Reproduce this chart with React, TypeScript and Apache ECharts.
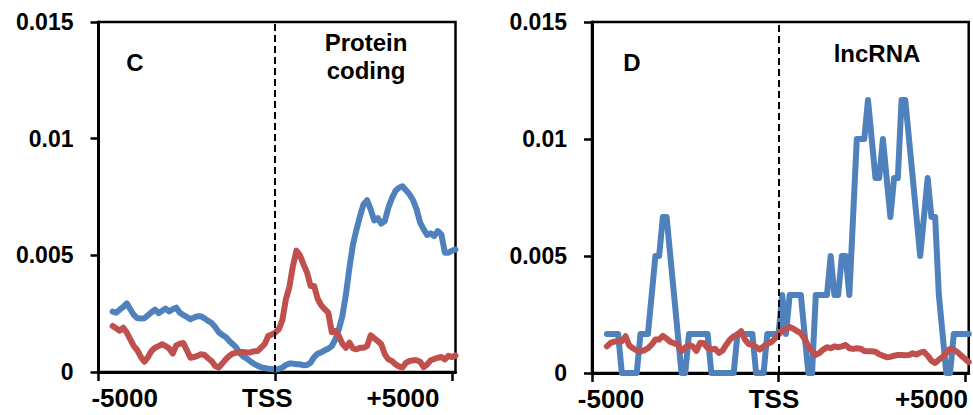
import React, { useEffect, useRef } from "react";
import * as echarts from "echarts";

// Distance from the TSS (bp), one bin every 100 bp
const positions = [
  -4600, -4500, -4400, -4300, -4200, -4100, -4000, -3900, -3800, -3700,
  -3600, -3500, -3400, -3300, -3200, -3100, -3000, -2900, -2800, -2700,
  -2600, -2500, -2400, -2300, -2200, -2100, -2000, -1900, -1800, -1700,
  -1600, -1500, -1400, -1300, -1200, -1100, -1000, -900, -800, -700,
  -600, -500, -400, -300, -200, -100, 0, 100, 200, 300,
  400, 500, 600, 700, 800, 900, 1000, 1100, 1200, 1300,
  1400, 1500, 1600, 1700, 1800, 1900, 2000, 2100, 2200, 2300,
  2400, 2500, 2600, 2700, 2800, 2900, 3000, 3100, 3200, 3300,
  3400, 3500, 3600, 3700, 3800, 3900, 4000, 4100, 4200, 4300,
  4400, 4500, 4600, 4700, 4800, 4900, 5000, 5100,
];

// Panel C - protein coding genes
const proteinBlue = [
  0.00259, 0.00254, 0.00267, 0.00279, 0.00294, 0.00269, 0.00244, 0.00231, 0.00229, 0.0023,
  0.00243, 0.00256, 0.00267, 0.00252, 0.00262, 0.00272, 0.0026, 0.00269, 0.00276, 0.00254,
  0.00244, 0.00236, 0.00226, 0.00233, 0.00239, 0.00239, 0.0023, 0.00219, 0.0021, 0.00193,
  0.00171, 0.00159, 0.0015, 0.00133, 0.00119, 0.00104, 0.0008, 0.00066, 0.00057, 0.00045,
  0.00035, 0.00027, 0.00021, 0.00017, 0.00014, 0.00013, 0.00011, 0.00013, 0.00019, 0.0003,
  0.00036, 0.00036, 0.00033, 0.00033, 0.00029, 0.0003, 0.0004, 0.00064, 0.00079, 0.00084,
  0.00093, 0.001, 0.00111, 0.0014, 0.00183, 0.0024, 0.00333, 0.00447, 0.00547, 0.00611,
  0.00669, 0.00719, 0.00736, 0.00697, 0.0065, 0.00659, 0.00636, 0.00647, 0.00704, 0.00744,
  0.00776, 0.0079, 0.00796, 0.00779, 0.00761, 0.00736, 0.00697, 0.0064, 0.00611, 0.00587,
  0.00594, 0.00583, 0.00604, 0.0059, 0.00511, 0.00511, 0.0052, 0.00525,
];
const proteinRed = [
  0.00197, 0.00187, 0.00177, 0.0019, 0.00169, 0.0014, 0.00111, 0.00093, 0.00064, 0.00044,
  0.00064, 0.0009, 0.00104, 0.00111, 0.00119, 0.00111, 0.00101, 0.00079, 0.00114, 0.00121,
  0.00124, 0.00093, 0.00061, 0.00064, 0.00069, 0.00076, 0.00073, 0.00059, 0.00047, 0.00026,
  0.00019, 0.00036, 0.00054, 0.00069, 0.00079, 0.00083, 0.00086, 0.00086, 0.00084, 0.00084,
  0.00089, 0.0009, 0.00104, 0.00119, 0.00154, 0.00161, 0.00169, 0.00183, 0.00221, 0.00311,
  0.00364, 0.00454, 0.0052, 0.005, 0.00461, 0.00426, 0.00369, 0.00369, 0.00314, 0.00286,
  0.00269, 0.00254, 0.00171, 0.00176, 0.00154, 0.00121, 0.00104, 0.00126, 0.00101, 0.00097,
  0.00104, 0.00104, 0.00111, 0.00157, 0.00144, 0.00133, 0.00119, 0.00076, 0.00054, 0.00047,
  0.00033, 0.00024, 0.00019, 0.0004, 0.00047, 0.0005, 0.0005, 0.00044, 0.00021, 0.00033,
  0.0005, 0.00056, 0.00061, 0.00064, 0.00054, 0.00069, 0.00064, 0.00071,
];

// Panel D - lncRNA genes
const lncBlue = [
  0.00167, 0.00167, 0.00167, 0.00167, 0, 0, 0, 0, 0, 0.00167,
  0.00167, 0.00167, 0.00333, 0.005, 0.005, 0.00667, 0.00667, 0.005, 0.00333, 0.00167,
  0, 0, 0.00167, 0.00167, 0.00167, 0.00167, 0.00167, 0.00167, 0, 0,
  0, 0, 0, 0, 0, 0.00167, 0.00167, 0.00167, 0.00167, 0.00167,
  0, 0, 0, 0.00167, 0.00167, 0.00167, 0.00167, 0.00333, 0.00167, 0.00333,
  0.00333, 0.00333, 0.00333, 0.00167, 0, 0, 0.00333, 0.00333, 0.00333, 0.00333,
  0.005, 0.00333, 0.00333, 0.005, 0.005, 0.00333, 0.00667, 0.01, 0.01, 0.01,
  0.01167, 0.01, 0.00833, 0.00833, 0.01, 0.00833, 0.00667, 0.00833, 0.00833, 0.01167,
  0.01167, 0.01, 0.00833, 0.00667, 0.005, 0.00667, 0.00833, 0.00667, 0.00667, 0.00333,
  0.00167, 0, 0, 0.00167, 0.00167, 0.00167, 0.00167, 0.00167,
];
const lncRed = [
  0.00114, 0.00129, 0.00134, 0.00136, 0.00136, 0.00157, 0.00117, 0.00106, 0.00096, 0.00093,
  0.00097, 0.00106, 0.00121, 0.00143, 0.00143, 0.00159, 0.00147, 0.00133, 0.00127, 0.00121,
  0.00094, 0.00109, 0.0012, 0.00114, 0.00094, 0.00129, 0.00127, 0.00107, 0.001, 0.00104,
  0.00086, 0.00096, 0.00121, 0.00143, 0.00157, 0.00163, 0.00179, 0.00143, 0.00124, 0.0012,
  0.00111, 0.001, 0.00114, 0.00124, 0.00131, 0.00146, 0.00164, 0.00181, 0.00187, 0.00197,
  0.00189, 0.00179, 0.0017, 0.00146, 0.00114, 0.00093, 0.00077, 0.00086, 0.001, 0.0011,
  0.00106, 0.00114, 0.0011, 0.00114, 0.0012, 0.00106, 0.00103, 0.00106, 0.00104, 0.00094,
  0.00093, 0.00093, 0.00091, 0.0008, 0.00074, 0.00067, 0.00069, 0.00074, 0.00077, 0.00077,
  0.00076, 0.00077, 0.00084, 0.00079, 0.00087, 0.00091, 0.00074, 0.00053, 0.00043, 0.00057,
  0.00069, 0.00086, 0.00103, 0.001, 0.00089, 0.00074, 0.00061, 0.00047,
];

const xTickValues = [-5000, 0, 5000];
const xTickLabels = ["-5000", "TSS", "+5000"];
// where each x label is centred on its axis
const proteinLabelAnchors = [-4260, -225, 3615];
const lncLabelAnchors = [-4490, -120, 4100];

const BLUE = "#4F81BD";
const RED = "#C0504D";
const FONT = '"Liberation Sans", Arial, Helvetica, sans-serif';

const pair = (ys: number[]) => positions.map((x, i) => [x, ys[i]]);

function xAxisFor(gridIndex: number, anchors: number[]) {
  return {
    type: "value",
    gridIndex,
    min: -5000,
    max: 5100,
    axisLine: { show: true, onZero: false, lineStyle: { color: "#000", width: 3 } },
    axisTick: {
      show: true,
      customValues: xTickValues,
      length: 9,
      lineStyle: { color: "#000", width: 2.5 },
    },
    axisLabel: {
      customValues: anchors,
      formatter: (v: number) => {
        const i = anchors.findIndex((a) => Math.abs(a - v) < 1);
        return i >= 0 ? xTickLabels[i] : "";
      },
      fontSize: 26,
      fontWeight: "bold",
      fontFamily: FONT,
      color: "#000",
      margin: 13,
    },
    splitLine: { show: false },
  };
}

function yAxisFor(gridIndex: number) {
  return {
    type: "value",
    gridIndex,
    min: 0,
    max: 0.015,
    interval: 0.005,
    axisLine: { show: true, onZero: false, lineStyle: { color: "#000", width: 3 } },
    axisTick: { show: true, length: 8, lineStyle: { color: "#000", width: 2.5 } },
    axisLabel: {
      formatter: (v: number) => String(parseFloat(v.toFixed(3))),
      fontSize: 23,
      fontWeight: "bold",
      fontFamily: FONT,
      color: "#000",
      margin: 25,
    },
    splitLine: { show: false },
  };
}

const tssLine = {
  silent: true,
  symbol: ["none", "none"],
  label: { show: false },
  lineStyle: { color: "#000", type: [7, 4], width: 2 },
  data: [{ xAxis: 0 }],
};

function lineSeries(name: string, idx: number, ys: number[], color: string, withTss: boolean) {
  return {
    name,
    type: "line",
    xAxisIndex: idx,
    yAxisIndex: idx,
    data: pair(ys),
    showSymbol: false,
    symbol: "none",
    lineStyle: { color, width: 6, cap: "round", join: "round" },
    itemStyle: { color },
    markLine: withTss ? tssLine : undefined,
  };
}

const titleStyle = (text: string) => ({
  text,
  font: `bold 24px ${FONT}`,
  fill: "#000",
  align: "center",
  verticalAlign: "middle",
  lineHeight: 28,
});

export default function App() {
  const ref = useRef<HTMLDivElement>(null);

  useEffect(() => {
    if (!ref.current) return;
    const chart = echarts.init(ref.current, null, { renderer: "svg" });
    chart.setOption({
      animation: false,
      backgroundColor: "#fff",
      grid: [
        { left: 98.5, top: 22, width: 357, height: 350, show: true, borderColor: "#000", borderWidth: 2.5 },
        { left: 592, top: 22, width: 376.7, height: 351, show: true, borderColor: "#000", borderWidth: 2.5 },
      ],
      xAxis: [xAxisFor(0, proteinLabelAnchors), xAxisFor(1, lncLabelAnchors)],
      yAxis: [yAxisFor(0), yAxisFor(1)],
      series: [
        lineSeries("Protein coding (blue)", 0, proteinBlue, BLUE, true),
        lineSeries("Protein coding (red)", 0, proteinRed, RED, false),
        lineSeries("lncRNA (blue)", 1, lncBlue, BLUE, true),
        lineSeries("lncRNA (red)", 1, lncRed, RED, false),
      ],
      graphic: [
        { type: "text", x: 135, y: 62, style: titleStyle("C") },
        { type: "text", x: 366, y: 56, style: titleStyle("Protein\ncoding") },
        { type: "text", x: 632, y: 62, style: titleStyle("D") },
        { type: "text", x: 877, y: 53, style: titleStyle("lncRNA") },
      ],
    });
    return () => chart.dispose();
  }, []);

  return (
    <div
      ref={ref}
      style={{ position: "fixed", left: 0, top: 0, width: 973, height: 415, background: "#fff" }}
    />
  );
}
